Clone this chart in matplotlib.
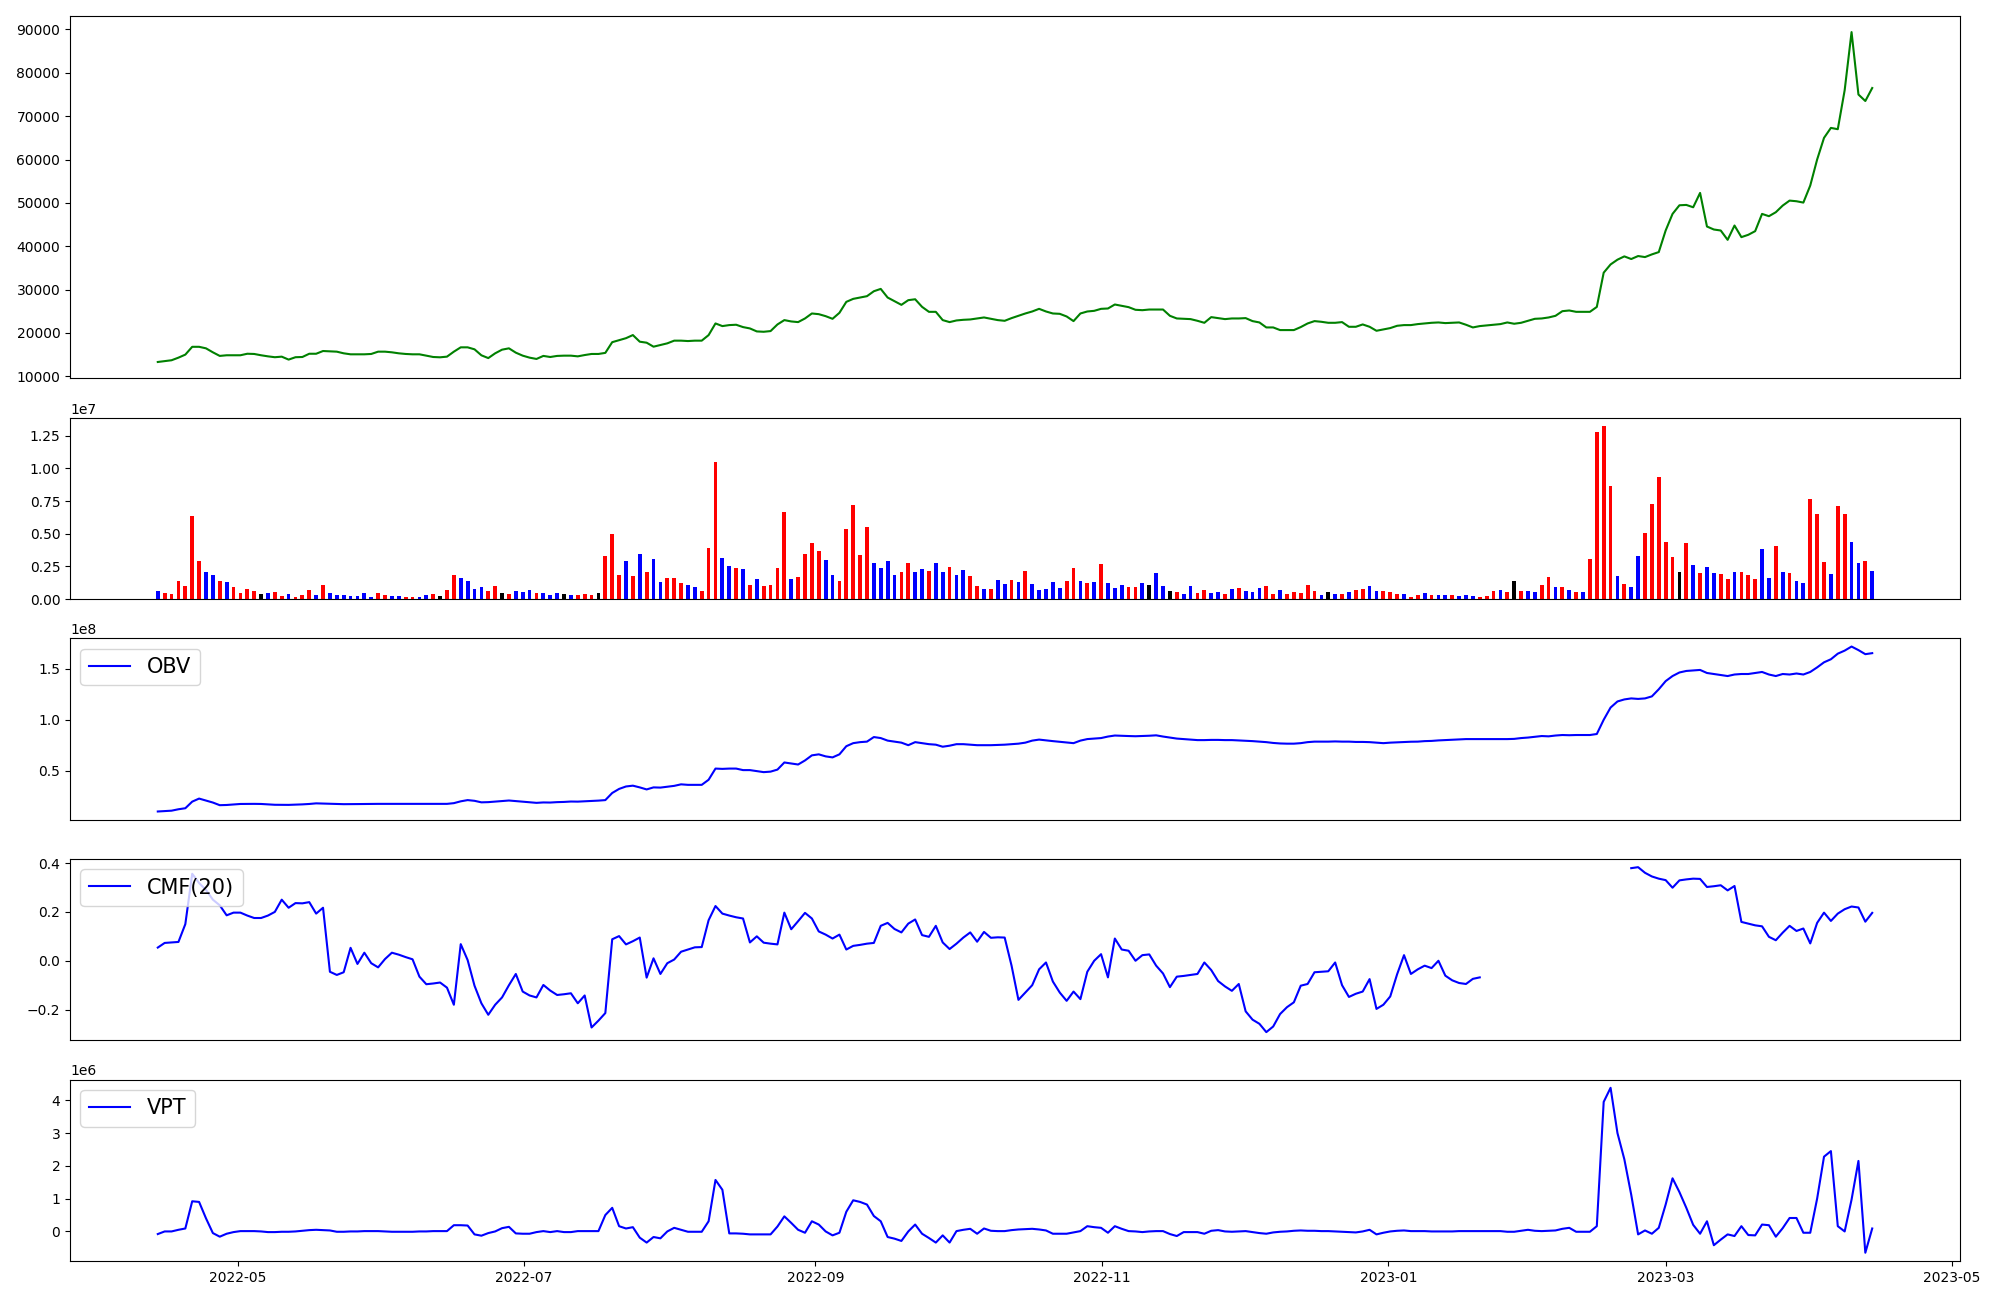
import numpy as np
import pandas as pd
import matplotlib
matplotlib.use("Agg")
import matplotlib.pyplot as plt

dates = pd.date_range("2022-04-14", "2023-04-14", periods=250)

close = [13300, 13500, 13700, 14300, 15000, 16800, 16800, 16450, 15530, 14700,
         14850, 14850, 14850, 15200, 15150, 14850, 14600, 14400, 14530, 13850,
         14400, 14450, 15200, 15200, 15830, 15750, 15680, 15300, 15070, 15070,
         15070, 15150, 15680, 15680, 15530, 15300, 15150, 15070, 15070, 14760,
         14450, 14380, 14530, 15680, 16680, 16680, 16220, 14840, 14200, 15300,
         16140, 16450, 15450, 14760, 14300, 14000, 14700, 14450, 14700, 14760,
         14760, 14600, 14900, 15150, 15150, 15400, 17870, 18330, 18790, 19510,
         17980, 17750, 16830, 17210, 17600, 18220, 18220, 18130, 18220, 18220,
         19500, 22190, 21580, 21810, 21890, 21350, 21040, 20350, 20270, 20430,
         21960, 22960, 22650, 22500, 23340, 24490, 24330, 23870, 23260, 24640,
         27170, 27860, 28170, 28480, 29620, 30160, 28170, 27330, 26480, 27560,
         27770, 26020, 24870, 24870, 22960, 22500, 22880, 23030, 23110, 23340,
         23570, 23260, 22960, 22800, 23420, 23950, 24490, 24950, 25560, 24950,
         24490, 24410, 23800, 22730, 24490, 24950, 25100, 25560, 25640, 26560,
         26250, 25950, 25340, 25250, 25400, 25400, 25400, 23950, 23340, 23260,
         23190, 22800, 22340, 23650, 23420, 23190, 23340, 23340, 23420, 22730,
         22420, 21270, 21270, 20660, 20660, 20660, 21350, 22190, 22730, 22570,
         22340, 22340, 22500, 21420, 21420, 21960, 21420, 20500, 20810, 21120,
         21650, 21810, 21810, 22040, 22190, 22340, 22420, 22270, 22340, 22420,
         21890, 21270, 21580, 21730, 21890, 22040, 22420, 22120, 22340, 22800,
         23260, 23340, 23570, 23950, 25020, 25180, 24870, 24870, 24870, 26000,
         33900, 35800, 36900, 37660, 37050, 37740, 37500, 38120, 38650, 43630,
         47460, 49450, 49530, 48990, 52300, 44550, 43860, 43630, 41480, 44780,
         42100, 42640, 43480, 47460, 46930, 47850, 49380, 50530, 50380, 50070,
         54000, 60000, 65000, 67300, 67000, 76000, 89400, 75000, 73500, 76500]

# volume in millions
volume = [0.64, 0.46, 0.38, 1.40, 1.02, 6.35, 2.92, 2.08, 1.85, 1.40,
          1.32, 0.94, 0.46, 0.79, 0.64, 0.38, 0.46, 0.56, 0.25, 0.38,
          0.15, 0.30, 0.71, 0.30, 1.09, 0.46, 0.30, 0.30, 0.23, 0.23,
          0.46, 0.15, 0.46, 0.30, 0.23, 0.23, 0.15, 0.15, 0.15, 0.30,
          0.38, 0.23, 0.71, 1.83, 1.60, 1.37, 0.76, 0.91, 0.61, 1.02,
          0.46, 0.38, 0.64, 0.56, 0.71, 0.46, 0.46, 0.30, 0.46, 0.38,
          0.30, 0.30, 0.38, 0.30, 0.46, 3.30, 4.98, 1.85, 2.92, 1.78,
          3.45, 2.08, 3.07, 1.32, 1.63, 1.63, 1.24, 1.09, 0.94, 0.64,
          3.91, 10.46, 3.15, 2.54, 2.39, 2.31, 1.09, 1.55, 1.02, 1.09,
          2.39, 6.65, 1.55, 1.70, 3.45, 4.29, 3.68, 3.00, 1.85, 1.40,
          5.36, 7.19, 3.38, 5.51, 2.77, 2.39, 2.92, 1.85, 2.08, 2.77,
          2.08, 2.31, 2.16, 2.77, 2.08, 2.46, 1.85, 2.24, 1.78, 1.02,
          0.79, 0.79, 1.47, 1.17, 1.47, 1.32, 2.16, 1.17, 0.71, 0.79,
          1.32, 0.86, 1.40, 2.39, 1.40, 1.24, 1.32, 2.69, 1.24, 0.86,
          1.09, 0.94, 0.94, 1.24, 1.09, 2.01, 1.02, 0.64, 0.56, 0.38,
          1.02, 0.48, 0.71, 0.48, 0.56, 0.41, 0.79, 0.86, 0.64, 0.56,
          0.86, 1.02, 0.41, 0.71, 0.41, 0.56, 0.48, 1.09, 0.64, 0.30,
          0.56, 0.41, 0.41, 0.56, 0.71, 0.79, 1.02, 0.64, 0.64, 0.56,
          0.41, 0.41, 0.15, 0.30, 0.48, 0.30, 0.30, 0.30, 0.30, 0.23,
          0.30, 0.23, 0.15, 0.23, 0.64, 0.71, 0.56, 1.40, 0.64, 0.64,
          0.56, 1.09, 1.70, 0.94, 0.94, 0.71, 0.56, 0.56, 3.07, 12.75,
          13.21, 8.64, 1.78, 1.17, 0.94, 3.30, 5.05, 7.26, 9.32, 4.37,
          3.23, 2.08, 4.29, 2.62, 2.01, 2.46, 2.01, 1.93, 1.55, 2.08,
          2.08, 1.85, 1.55, 3.84, 1.63, 4.06, 2.08, 2.01, 1.40, 1.24,
          7.65, 6.50, 2.84, 1.93, 7.11, 6.50, 4.37, 2.77, 2.92, 2.16]

# r = up day, b = down day, k = unchanged
direction = ("brrrrrrbbr" "brrrrkbrrb" "rrrbrbbbbb" "bbrrbbrrbb" "rkrrbbbbrr"
             "krbbbrbbbk" "brrrkrrrbr" "brbbrrrbbr" "rrbbrbrbrr" "rrbrrrrbbr"
             "rrrrbbbbrr" "bbrbbrbbrr" "brbbrbrbbb" "bbrrbrbrbb" "brrbkbbkrb"
             "brrbbrbrbb" "brrbrrrrrb" "kbrbrrbbrr" "rbrrbrbbrb" "bbrrrbrkrb"
             "brrbrbrbrr" "rrbrbbrrrr" "rkrbrbbrrb" "rrrbbrbrbb" "rrrbrrbbrb")

# OBV in units of 1e7
obv = [0.98, 1.02, 1.06, 1.20, 1.30, 1.95, 2.25, 2.05, 1.86, 1.60,
       1.62, 1.67, 1.72, 1.73, 1.73, 1.72, 1.68, 1.64, 1.63, 1.63,
       1.65, 1.68, 1.72, 1.78, 1.76, 1.73, 1.71, 1.70, 1.70, 1.71,
       1.72, 1.73, 1.73, 1.73, 1.73, 1.73, 1.73, 1.73, 1.73, 1.73,
       1.73, 1.73, 1.73, 1.80, 1.98, 2.10, 2.03, 1.88, 1.90, 1.95,
       2.00, 2.06, 2.00, 1.93, 1.87, 1.83, 1.87, 1.86, 1.90, 1.92,
       1.96, 1.95, 1.98, 2.00, 2.05, 2.10, 2.80, 3.20, 3.44, 3.52,
       3.35, 3.15, 3.35, 3.33, 3.42, 3.50, 3.65, 3.60, 3.60, 3.60,
       4.10, 5.20, 5.17, 5.20, 5.20, 5.05, 5.05, 4.95, 4.85, 4.90,
       5.10, 5.80, 5.70, 5.60, 6.00, 6.50, 6.60, 6.40, 6.30, 6.60,
       7.40, 7.70, 7.80, 7.85, 8.30, 8.20, 7.95, 7.85, 7.75, 7.50,
       7.80, 7.70, 7.60, 7.55, 7.35, 7.45, 7.60, 7.60, 7.55, 7.50,
       7.50, 7.50, 7.52, 7.55, 7.60, 7.65, 7.75, 7.95, 8.05, 7.97,
       7.90, 7.83, 7.75, 7.70, 7.95, 8.10, 8.15, 8.20, 8.35, 8.45,
       8.42, 8.40, 8.38, 8.40, 8.43, 8.47, 8.35, 8.25, 8.15, 8.10,
       8.05, 8.00, 8.00, 8.02, 8.02, 8.00, 8.00, 7.97, 7.95, 7.90,
       7.85, 7.80, 7.72, 7.67, 7.65, 7.65, 7.70, 7.80, 7.85, 7.85,
       7.85, 7.87, 7.85, 7.85, 7.82, 7.82, 7.80, 7.75, 7.70, 7.75,
       7.78, 7.80, 7.84, 7.85, 7.90, 7.92, 7.97, 8.00, 8.04, 8.07,
       8.10, 8.10, 8.10, 8.10, 8.10, 8.10, 8.10, 8.12, 8.20, 8.25,
       8.32, 8.40, 8.37, 8.45, 8.50, 8.48, 8.50, 8.50, 8.50, 8.60,
       10.00, 11.20, 11.80, 12.00, 12.10, 12.05, 12.10, 12.30, 13.00, 13.80,
       14.30, 14.65, 14.80, 14.85, 14.90, 14.60, 14.50, 14.40, 14.30, 14.45,
       14.50, 14.50, 14.60, 14.70, 14.45, 14.30, 14.50, 14.45, 14.55, 14.45,
       14.70, 15.15, 15.65, 15.95, 16.50, 16.80, 17.20, 16.85, 16.45, 16.55]

nan = np.nan
cmf = [0.054, 0.073, 0.075, 0.077, 0.15, 0.356, 0.318, 0.29, 0.25, 0.227,
       0.186, 0.197, 0.197, 0.185, 0.175, 0.175, 0.185, 0.20, 0.25, 0.217,
       0.236, 0.235, 0.24, 0.193, 0.217, -0.045, -0.058, -0.047, 0.053, -0.013,
       0.033, -0.01, -0.027, 0.007, 0.033, 0.025, 0.015, 0.006, -0.065, -0.096,
       -0.093, -0.089, -0.11, -0.18, 0.068, 0.003, -0.102, -0.174, -0.221, -0.18,
       -0.15, -0.10, -0.054, -0.126, -0.142, -0.15, -0.099, -0.122, -0.14, -0.137,
       -0.133, -0.174, -0.142, -0.273, -0.245, -0.214, 0.088, 0.101, 0.067, 0.08,
       0.095, -0.069, 0.01, -0.054, -0.01, 0.005, 0.037, 0.046, 0.055, 0.056,
       0.166, 0.224, 0.193, 0.185, 0.178, 0.173, 0.075, 0.10, 0.074, 0.07,
       0.067, 0.197, 0.129, 0.162, 0.196, 0.173, 0.12, 0.107, 0.091, 0.107,
       0.046, 0.061, 0.065, 0.07, 0.073, 0.143, 0.155, 0.13, 0.116, 0.152,
       0.169, 0.105, 0.098, 0.143, 0.075, 0.048, 0.07, 0.095, 0.116, 0.078,
       0.118, 0.094, 0.096, 0.095, -0.02, -0.16, -0.13, -0.10, -0.035, -0.007,
       -0.085, -0.13, -0.164, -0.126, -0.157, -0.045, 0.0, 0.027, -0.068, 0.091,
       0.046, 0.041, 0.0, 0.023, 0.026, -0.02, -0.052, -0.108, -0.065, -0.062,
       -0.058, -0.054, -0.007, -0.038, -0.083, -0.105, -0.123, -0.095, -0.207, -0.241,
       -0.258, -0.292, -0.269, -0.218, -0.19, -0.17, -0.102, -0.095, -0.047, -0.045,
       -0.043, -0.007, -0.1, -0.148, -0.135, -0.126, -0.075, -0.197, -0.18, -0.146,
       -0.055, 0.023, -0.054, -0.035, -0.02, -0.03, 0.0, -0.061, -0.08, -0.091,
       -0.095, -0.074, -0.068, nan, nan, nan, nan, nan, nan, nan,
       nan, nan, nan, nan, nan, nan, nan, nan, nan, nan,
       nan, nan, nan, nan, 0.379, 0.383, 0.36, 0.345, 0.336, 0.33,
       0.299, 0.329, 0.333, 0.336, 0.335, 0.302, 0.305, 0.309, 0.288, 0.306,
       0.159, 0.152, 0.145, 0.141, 0.098, 0.084, 0.115, 0.143, 0.122, 0.132,
       0.071, 0.155, 0.197, 0.163, 0.193, 0.211, 0.222, 0.218, 0.16, 0.196]

# VPT in units of 1e6
vpt = [-0.08, 0.0, 0.0, 0.05, 0.09, 0.92, 0.90, 0.40, -0.05, -0.16,
       -0.07, -0.02, 0.01, 0.01, 0.01, 0.0, -0.02, -0.02, -0.01, -0.01,
       0.0, 0.02, 0.04, 0.05, 0.04, 0.03, -0.01, -0.01, 0.0, 0.0,
       0.01, 0.01, 0.01, 0.0, -0.01, -0.01, -0.01, -0.01, 0.0, 0.0,
       0.01, 0.01, 0.01, 0.19, 0.19, 0.18, -0.09, -0.13, -0.05, 0.0,
       0.10, 0.14, -0.06, -0.07, -0.07, -0.02, 0.01, -0.02, 0.01, -0.02,
       -0.02, 0.01, 0.01, 0.01, 0.01, 0.50, 0.72, 0.16, 0.09, 0.13,
       -0.19, -0.34, -0.17, -0.21, 0.0, 0.11, 0.05, -0.01, -0.01, -0.01,
       0.31, 1.57, 1.27, -0.06, -0.06, -0.07, -0.09, -0.09, -0.09, -0.09,
       0.15, 0.46, 0.26, 0.05, -0.04, 0.31, 0.21, 0.0, -0.12, -0.04,
       0.60, 0.95, 0.90, 0.82, 0.47, 0.31, -0.17, -0.22, -0.29, 0.0,
       0.21, -0.07, -0.20, -0.34, -0.12, -0.34, 0.01, 0.05, 0.08, -0.07,
       0.09, 0.02, 0.01, 0.01, 0.04, 0.06, 0.07, 0.08, 0.06, 0.03,
       -0.07, -0.07, -0.07, -0.03, 0.01, 0.16, 0.13, 0.11, -0.04, 0.16,
       0.08, 0.01, 0.0, -0.02, 0.0, 0.01, 0.01, -0.08, -0.14, -0.02,
       -0.02, -0.02, -0.07, 0.02, 0.04, 0.0, -0.01, 0.0, 0.01, -0.02,
       -0.05, -0.07, -0.03, -0.01, 0.0, 0.02, 0.03, 0.02, 0.02, 0.01,
       0.01, 0.0, -0.01, -0.02, -0.03, 0.0, 0.05, -0.09, -0.04, 0.0,
       0.02, 0.03, 0.01, 0.01, 0.01, 0.0, 0.0, 0.0, 0.0, 0.01,
       0.01, 0.01, 0.01, 0.01, 0.01, 0.01, -0.01, -0.01, 0.02, 0.05,
       0.02, 0.01, 0.02, 0.03, 0.08, 0.11, -0.01, -0.01, -0.01, 0.16,
       3.95, 4.38, 3.00, 2.20, 1.12, -0.09, 0.03, -0.07, 0.11, 0.82,
       1.62, 1.20, 0.72, 0.20, -0.07, 0.31, -0.42, -0.25, -0.09, -0.14,
       0.16, -0.11, -0.12, 0.21, 0.19, -0.16, 0.10, 0.41, 0.41, -0.04,
       -0.04, 1.00, 2.28, 2.45, 0.16, 0.0, 0.97, 2.15, -0.65, 0.09]

code_color = {"r": "red", "b": "blue", "k": "black"}
bar_colors = [code_color[c] for c in direction]

fig, axes = plt.subplots(5, 1, figsize=(20, 13), sharex=True,
                         gridspec_kw={"height_ratios": [2, 1, 1, 1, 1]})
ax1, ax2, ax3, ax4, ax5 = axes

ax1.plot(dates, close, color="green")

ax2.bar(dates, np.array(volume) * 1e6, color=bar_colors)

ax3.plot(dates, np.array(obv) * 1e7, color="blue", label="OBV")
ax3.legend(loc="upper left", fontsize=15)

ax4.plot(dates, cmf, color="blue", label="CMF(20)")
ax4.legend(loc="upper left", fontsize=15)

ax5.plot(dates, np.array(vpt) * 1e6, color="blue", label="VPT")
ax5.legend(loc="upper left", fontsize=15)

for ax in axes[:-1]:
    ax.tick_params(axis="x", bottom=False, labelbottom=False)

fig.subplots_adjust(left=0.035, right=0.98, top=0.988, bottom=0.03, hspace=0.18)
fig.savefig("out.png", dpi=100)
